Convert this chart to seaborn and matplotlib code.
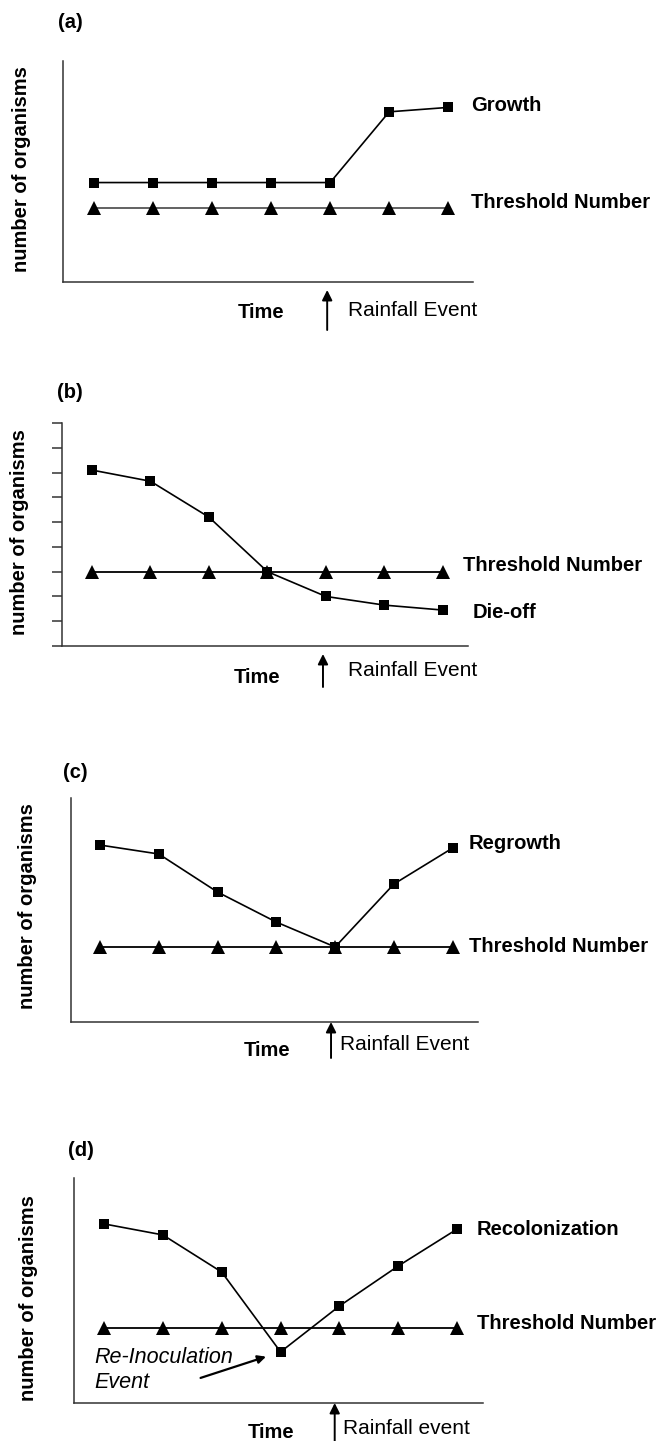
import matplotlib
matplotlib.use("Agg")
import matplotlib.pyplot as plt
import seaborn as sns

# -----------------------------
# Data (arbitrary units)
# -----------------------------
time = [1, 2, 3, 4, 5, 6, 7]

growth = [4.5, 4.5, 4.5, 4.5, 4.5, 7.7, 7.9]
threshold_a = [3.35, 3.35, 3.35, 3.35, 3.35, 3.35, 3.35]

dieoff = [7.1, 6.65, 5.2, 3.0, 2.0, 1.65, 1.45]
threshold_b = [3.0, 3.0, 3.0, 3.0, 3.0, 3.0, 3.0]

regrowth = [7.9, 7.5, 5.8, 4.46, 3.35, 6.16, 7.77]
threshold_c = [3.35, 3.35, 3.35, 3.35, 3.35, 3.35, 3.35]

recolonization = [7.96, 7.47, 5.82, 2.27, 4.31, 6.09, 7.73]
threshold_d = [3.33, 3.33, 3.33, 3.33, 3.33, 3.33, 3.33]

panel_labels = ["(a)", "(b)", "(c)", "(d)"]
series_names = ["Growth", "Die-off", "Regrowth", "Recolonization"]
rain_labels = ["Rainfall Event", "Rainfall Event", "Rainfall Event", "Rainfall event"]
rain_time = [4.95, 4.95, 4.93, 4.92]

sns.set_style("white")
plt.rcParams["font.family"] = ["Liberation Sans", "DejaVu Sans"]
plt.rcParams["text.color"] = "black"

W, H = 661, 1441
fig = plt.figure(figsize=(W / 100, H / 100), dpi=100)


def px_axes(l, t, r, b):
    return fig.add_axes([l / W, 1 - b / H, (r - l) / W, (b - t) / H])


def px_text(x, y, s, **kw):
    fig.text(x / W, 1 - y / H, s, **kw)


# layout of each panel (pixel boxes and text spots)
panels = [
    dict(box=(63, 61, 473, 282), xlim=(0.475, 7.42), ylim=(0, 10), y=growth, thr=threshold_a,
         thr_color="#555555", name_off=(23, 2), thr_off=(23, 5),
         lab=(58, 22), ylab=(22, 169), time_xy=(261, 312), rain_xy=(348, 310), arrow=(8, 48)),
    dict(box=(62, 423, 468, 646), xlim=(0.487, 7.43), ylim=(0, 9), y=dieoff, thr=threshold_b,
         thr_color="black", name_off=(30, -2), thr_off=(20, 6),
         lab=(57, 393), ylab=(20, 532), time_xy=(257, 677), rain_xy=(348, 670), arrow=(8, 41)),
    dict(box=(71, 798, 478, 1022), xlim=(0.507, 7.43), ylim=(0, 10), y=regrowth, thr=threshold_c,
         thr_color="black", name_off=(16, 4), thr_off=(16, 0),
         lab=(63, 772), ylab=(28, 906), time_xy=(267, 1051), rain_xy=(340, 1045), arrow=(0, 36)),
    dict(box=(74, 1178, 483, 1403), xlim=(0.49, 7.44), ylim=(0, 10), y=recolonization, thr=threshold_d,
         thr_color="black", name_off=(20, 0), thr_off=(20, 5),
         lab=(68, 1150), ylab=(29, 1298), time_xy=(271, 1433), rain_xy=(343, 1428), arrow=(0, 40)),
]

FS = 14.5

for i, p in enumerate(panels):
    ax = px_axes(*p["box"])
    h_px = p["box"][3] - p["box"][1]

    # threshold line first, organisms line on top
    sns.lineplot(x=time, y=p["thr"], ax=ax, color=p["thr_color"], lw=1.3,
                 marker="^", markersize=9.5, markeredgewidth=0, markerfacecolor="black")
    sns.lineplot(x=time, y=p["y"], ax=ax, color="black", lw=1.2,
                 marker="s", markersize=7.5, markeredgewidth=0, markerfacecolor="black")

    ax.set_xlim(p["xlim"])
    ax.set_ylim(p["ylim"])
    ax.set_xticks([])
    ax.set_xlabel("")
    ax.set_ylabel("")
    if i == 1:
        ax.set_yticks(range(0, 10))
        ax.set_yticklabels([])
        ax.tick_params(axis="y", left=True, direction="out", length=7, width=1.1, color="#333333")
    else:
        ax.set_yticks([])
    sns.despine(ax=ax)
    for s in ["left", "bottom"]:
        ax.spines[s].set_color("#333333")
        ax.spines[s].set_linewidth(1.1)

    # line names
    ax.annotate(series_names[i], xy=(time[-1], p["y"][-1]), xytext=p["name_off"],
                textcoords="offset pixels", ha="left", va="center",
                fontsize=FS, fontweight="bold")
    ax.annotate("Threshold Number", xy=(time[-1], p["thr"][-1]), xytext=p["thr_off"],
                textcoords="offset pixels", ha="left", va="center",
                fontsize=FS, fontweight="bold")

    # rainfall arrow below the time axis
    tip, tail = p["arrow"]
    ax.annotate("", xy=(rain_time[i], -tip / h_px), xytext=(rain_time[i], -tail / h_px),
                xycoords=("data", "axes fraction"), textcoords=("data", "axes fraction"),
                arrowprops=dict(arrowstyle="-|>", color="black", lw=1.4,
                                mutation_scale=15, shrinkA=0, shrinkB=0),
                annotation_clip=False)

    px_text(*p["lab"], panel_labels[i], ha="left", va="center", fontsize=FS, fontweight="bold")
    px_text(*p["ylab"], "number of organisms", rotation=90, ha="center", va="center",
            fontsize=FS, fontweight="bold")
    px_text(*p["time_xy"], "Time", ha="center", va="center", fontsize=FS, fontweight="bold")
    px_text(*p["rain_xy"], rain_labels[i], ha="left", va="center", fontsize=FS + 0.5)

    if i == 3:
        # re-inoculation note pointing at the low point
        ax.annotate("", xy=(time[3], p["y"][3]), xytext=(-80, -26),
                    textcoords="offset pixels",
                    arrowprops=dict(arrowstyle="-|>", color="black", lw=1.6,
                                    mutation_scale=12, shrinkA=0, shrinkB=11))
        px_text(94, 1370, "Re-Inoculation\nEvent", ha="left", va="center",
                fontsize=FS + 1, style="italic", linespacing=1.25)

fig.savefig("out.png", dpi=100)
